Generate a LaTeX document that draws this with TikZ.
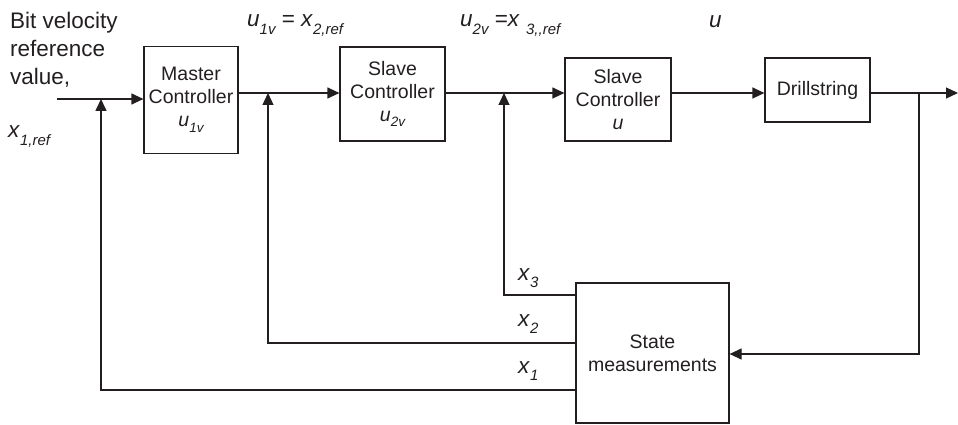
\documentclass[tikz,border=0pt]{standalone}
\usepackage{fontspec}
\setmainfont{Liberation Sans}
\usetikzlibrary{arrows.meta}
\definecolor{ink}{HTML}{231F20}
\newcommand\sbs[1]{\raisebox{-0.32em}{\fontsize{15}{15}\selectfont\itshape #1}}
\newcommand\sbsm[1]{\raisebox{-0.3em}{\fontsize{13.5}{13.5}\selectfont\itshape #1}}
\begin{document}
\begin{tikzpicture}[x=1pt,y=-1pt,
  every node/.style={text=ink},
  blockbox/.style={draw=ink,line width=1.2pt,inner sep=0pt,align=center,
    font=\fontsize{19.5}{23}\selectfont},
  biglabel/.style={inner sep=0pt,font=\fontsize{22.5}{28.3}\selectfont},
  conn/.style={draw=ink,line width=1.2pt},
  arr/.style={conn,-{Triangle[length=12pt,width=11pt]}}]
\useasboundingbox (0,0) rectangle (958,425);
% blocks
\node[blockbox,minimum width=94pt,minimum height=107pt] (master) at (191,100)
  {Master\\Controller\\\textit{u}\sbsm{1v}};
\node[blockbox,minimum width=105pt,minimum height=94pt] (slave1) at (392.5,94)
  {Slave\\Controller\\\textit{u}\sbsm{2v}};
\node[blockbox,minimum width=106pt,minimum height=83pt] (slave2) at (618,99.5)
  {Slave\\Controller\\\textit{u}};
\node[blockbox,minimum width=105pt,minimum height=64pt] (drill) at (817.5,90)
  {Drillstring};
\node[blockbox,minimum width=153pt,minimum height=140pt] (state) at (652.5,353)
  {State\\measurements};
% labels
\node[biglabel,anchor=north west,align=left] (bitlab) at (10,11.5)
  {Bit velocity\\reference\\value,};
\node[biglabel,anchor=base west] (xref) at (8,138) {\textit{x}\sbs{1,ref}};
\node[biglabel,anchor=base west] (ulab1) at (247,27) {\textit{u}\sbs{1v} = \textit{x}\sbs{2,ref}};
\node[biglabel,anchor=base west] (ulab2) at (460,27) {\textit{u}\sbs{2v} =\textit{x} \sbs{3,{},ref}};
\node[biglabel,anchor=base west] (ulab3) at (709,28) {\textit{u}};
\node[biglabel,anchor=base west] (x3lab) at (518,280) {\textit{x}\sbs{3}};
\node[biglabel,anchor=base west] (x2lab) at (518,326) {\textit{x}\sbs{2}};
\node[biglabel,anchor=base west] (x1lab) at (518,373) {\textit{x}\sbs{1}};
% coordinates
\coordinate (in) at (57,99);
\coordinate (j1) at (101,99);
\coordinate (j2) at (268,93);
\coordinate (j3) at (504,93);
\coordinate (j4) at (919,93);
\coordinate (out) at (958,93);
\coordinate (c1) at (101,390);
\coordinate (c2) at (268,343);
\coordinate (c3) at (504,295);
\coordinate (c4) at (919,354);
% forward path
\draw[arr] (in) -- (in -| master.west);
\draw[arr] (j2 -| master.east) -- (j2 -| slave1.west);
\draw[arr] (j3 -| slave1.east) -- (j3 -| slave2.west);
\draw[arr] (j3 -| slave2.east) -- (j3 -| drill.west);
\draw[arr] (j4 -| drill.east) -- (out);
% feedback
\draw[arr] (j4) -- (c4) -- (c4 -| state.east);
\draw[arr] (c3 -| state.west) -- (c3) -- (j3);
\draw[arr] (c2 -| state.west) -- (c2) -- (j2);
\draw[arr,line width=1.6pt] (c1 -| state.west) -- (c1) -- (j1);
\end{tikzpicture}
\end{document}
